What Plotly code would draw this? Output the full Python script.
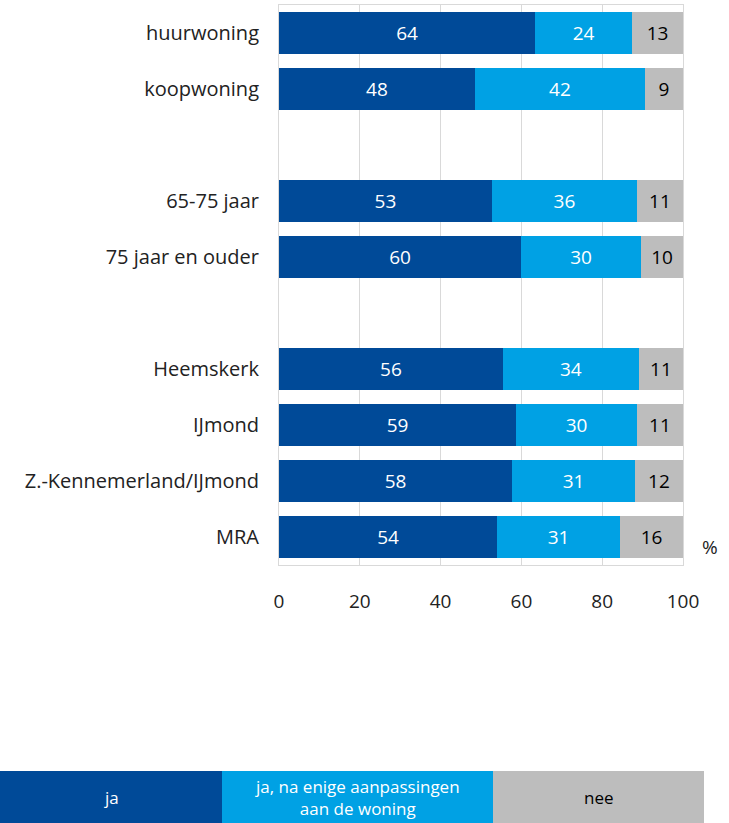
import plotly.graph_objects as go

categories = ["huurwoning", "koopwoning", " ",
              "65-75 jaar", "75 jaar en ouder", "  ",
              "Heemskerk", "IJmond", "Z.-Kennemerland/IJmond", "MRA"]
ja = [63.4, 48.5, None, 52.7, 59.9, None, 55.4, 58.7, 57.7, 54.0]
ja_aanp = [24.0, 42.1, None, 35.9, 29.7, None, 33.7, 29.9, 30.4, 30.4]
nee = [12.6, 9.4, None, 11.4, 10.4, None, 10.9, 11.4, 11.9, 15.6]
ja_lbl = ["64", "48", None, "53", "60", None, "56", "59", "58", "54"]
ja_aanp_lbl = ["24", "42", None, "36", "30", None, "34", "30", "31", "31"]
nee_lbl = ["13", "9", None, "11", "10", None, "11", "11", "12", "16"]
series_names = ["ja", "ja, na enige aanpassingen<br>aan de woning", "nee"]
colors = ["#004A98", "#00A1E4", "#BDBDBD"]
text_colors = ["white", "white", "black"]
x_ticks = [0, 20, 40, 60, 80, 100]

W, H = 729, 823
L, R, T, B = 279, 683, 5, 565

fig = go.Figure()
for vals, lbls, name, col, tc in zip([ja, ja_aanp, nee], [ja_lbl, ja_aanp_lbl, nee_lbl],
                                    series_names, colors, text_colors):
    fig.add_trace(go.Bar(
        y=categories, x=vals, orientation="h", name=name,
        marker=dict(color=col, line=dict(width=0)),
        text=lbls, textposition="inside", insidetextanchor="middle",
        textangle=0, constraintext="none",
        textfont=dict(color=tc, size=19, family="Open Sans"),
        showlegend=False,
    ))

def px_x(p):
    return (p - L) / (R - L)

def px_y(p):
    return (B - p) / (B - T)

shapes = []
annotations = []
legend_boxes = [(0, 222), (222, 493), (493, 704)]
for (x0, x1), name, col, tc in zip(legend_boxes, series_names, colors, text_colors):
    shapes.append(dict(type="rect", xref="paper", yref="paper",
                       x0=px_x(x0), x1=px_x(x1), y0=px_y(823), y1=px_y(771),
                       fillcolor=col, line=dict(width=0), layer="above"))
    annotations.append(dict(xref="paper", yref="paper",
                            x=px_x((x0 + x1) / 2), y=px_y(797),
                            text=name, showarrow=False,
                            font=dict(color=tc, size=17,
                                      family="Liberation Sans Narrow, Open Sans"),
                            xanchor="center", yanchor="middle", align="center"))
annotations.append(dict(xref="paper", yref="paper", x=px_x(710), y=px_y(547),
                        text="%", showarrow=False,
                        font=dict(size=19, color="#222", family="Open Sans"),
                        xanchor="center", yanchor="middle"))

fig.update_layout(
    width=W, height=H, barmode="stack", bargap=0.25,
    margin=dict(l=L, r=W - R, t=T, b=H - B, pad=0),
    paper_bgcolor="white", plot_bgcolor="white",
    font=dict(family="Open Sans", size=17, color="#222"),
    shapes=shapes, annotations=annotations,
    xaxis=dict(range=[0, 100], tickvals=x_ticks, showgrid=True,
               gridcolor="#D9D9D9", gridwidth=1, zeroline=False,
               showline=True, mirror=True, linecolor="#D9D9D9", linewidth=1,
               ticks="", ticklabelstandoff=19,
               tickfont=dict(size=19, color="#222")),
    yaxis=dict(autorange="reversed", categoryorder="array", categoryarray=categories,
               showgrid=False, showline=True, mirror=True, linecolor="#D9D9D9",
               linewidth=1, ticks="", ticklabelstandoff=15,
               tickfont=dict(size=20, color="#222")),
)

fig.write_html("out.html", config={"displayModeBar": False},
               post_script="document.body.style.margin='0';document.body.style.overflow='hidden';")
